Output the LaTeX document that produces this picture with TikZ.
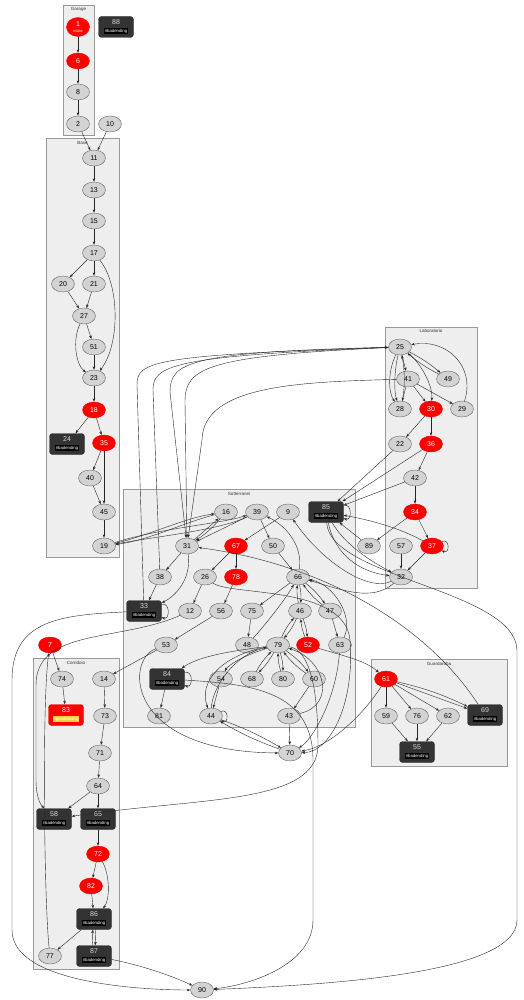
\documentclass[tikz,border=0pt]{standalone}
\usepackage{fontspec}
\setmainfont{Liberation Sans}
\usetikzlibrary{arrows.meta}
\usetikzlibrary{shapes.geometric}
\definecolor{clfill}{HTML}{EEEEEE}
\definecolor{clline}{HTML}{999999}
\definecolor{gfill}{HTML}{D3D3D3}
\definecolor{bfill}{HTML}{333333}
\definecolor{goodyel}{HTML}{F2CF3A}
\newcommand{\badtag}{{\fontsize{4.3}{5}\selectfont\setlength{\fboxsep}{0.8pt}\colorbox{black}{\textcolor{white}{\#badending}}}}
\newcommand{\goodtag}{{\fontsize{4.3}{5}\selectfont\setlength{\fboxsep}{0.8pt}\colorbox{goodyel}{\textcolor{white}{\#goodending}}}}

\begin{document}
\begin{tikzpicture}[>={Stealth[length=3.5pt,width=2.6pt]},x=1pt,y=1pt,
	gnode/.style={ellipse,draw=black!60,fill=gfill,minimum width=23pt,minimum height=16pt,inner sep=0pt,font=\fontsize{7}{8}\selectfont},
	rnode/.style={gnode,draw=red,fill=red,text=white},
	bnode/.style={rectangle,rounded corners=3pt,draw=bfill,fill=bfill,text=white!85!black,minimum width=35pt,minimum height=21pt,inner sep=1pt,align=center,font=\fontsize{7}{7.5}\selectfont},
	gbox/.style={bnode,draw=red,fill=red,text=white},
	cluster/.style={draw=clline,fill=clfill,line width=0.6pt},
	cllabel/.style={font=\fontsize{4.5}{5}\selectfont,text=black!80},
	link/.style={->,draw=black!85,line width=0.4pt}]
			\useasboundingbox (0,0) rectangle (523,-1000);
			% clusters
			\draw[cluster] (63,-5) rectangle (94,-135);
			\node[cllabel] at (78.5,-9.5) {Garage};
			\draw[cluster] (46,-138) rectangle (119,-557);
			\node[cllabel] at (82.5,-143) {Base};
			\draw[cluster] (385,-327) rectangle (477,-588);
			\node[cllabel] at (431,-331) {Laboratorio};
			\draw[cluster] (123,-489) rectangle (355,-727);
			\node[cllabel] at (239,-494) {Sotterranei};
			\draw[cluster] (33,-658) rectangle (119,-969);
			\node[cllabel] at (76,-663) {Corridoio};
			\draw[cluster] (371,-659) rectangle (507,-766);
			\node[cllabel] at (439,-664) {Guardaroba};
			% Garage
			\node[rnode,minimum height=19pt,align=center] (n1) at (78,-27) {1\\[-2.5pt]{\fontsize{4}{4}\selectfont inizio}};
			\node[rnode] (n6) at (78,-61) {6};
			\node[gnode] (n8) at (78,-92) {8};
			\node[gnode] (n2) at (78,-124) {2};
			\node[bnode] (n88) at (116,-27) {88\\\badtag};
			\node[gnode] (n10) at (110,-124) {10};
			% Base
			\node[gnode] (n11) at (94,-158) {11};
			\node[gnode] (n13) at (94,-190) {13};
			\node[gnode] (n15) at (94,-221) {15};
			\node[gnode] (n17) at (94,-253) {17};
			\node[gnode] (n20) at (63,-284) {20};
			\node[gnode] (n21) at (94,-284) {21};
			\node[gnode] (n27) at (84,-316) {27};
			\node[gnode] (n51) at (94,-347) {51};
			\node[gnode] (n23) at (94,-378) {23};
			\node[rnode] (n18) at (94,-410) {18};
			\node[bnode] (n24) at (67,-444) {24\\\badtag};
			\node[rnode] (n35) at (104,-443) {35};
			\node[gnode] (n40) at (90,-478) {40};
			\node[gnode] (n45) at (104,-512) {45};
			\node[gnode] (n19) at (104,-546) {19};
			% Laboratorio
			\node[gnode] (n25) at (400,-347) {25};
			\node[gnode] (n41) at (408,-379) {41};
			\node[gnode] (n49) at (448,-379) {49};
			\node[gnode] (n28) at (400,-409) {28};
			\node[rnode] (n30) at (431,-409) {30};
			\node[gnode] (n29) at (462,-409) {29};
			\node[gnode] (n22) at (400,-444) {22};
			\node[rnode] (n36) at (431,-444) {36};
			\node[gnode] (n42) at (415,-478) {42};
			\node[rnode] (n34) at (415,-512) {34};
			\node[gnode] (n57) at (401,-546) {57};
			\node[rnode] (n37) at (432,-546) {37};
			\node[gnode] (n32) at (401,-577) {32};
			\node[gnode] (n89) at (369,-546) {89};
			% Sotterranei
			\node[gnode] (n16) at (226,-512) {16};
			\node[gnode] (n39) at (257,-512) {39};
			\node[gnode] (n9) at (288,-512) {9};
			\node[bnode] (n85) at (326,-512) {85\\\badtag};
			\node[gnode] (n31) at (187,-546) {31};
			\node[rnode] (n67) at (236,-546) {67};
			\node[gnode] (n50) at (273,-546) {50};
			\node[gnode] (n38) at (160,-577) {38};
			\node[gnode] (n26) at (205,-577) {26};
			\node[rnode] (n78) at (236,-577) {78};
			\node[gnode] (n66) at (298,-577) {66};
			\node[bnode] (n33) at (144,-611) {33\\\badtag};
			\node[gnode] (n12) at (190,-611) {12};
			\node[gnode] (n56) at (221,-611) {56};
			\node[gnode] (n75) at (252,-611) {75};
			\node[gnode] (n46) at (300,-611) {46};
			\node[gnode] (n47) at (330,-611) {47};
			\node[gnode] (n53) at (166,-645) {53};
			\node[gnode] (n48) at (247,-645) {48};
			\node[gnode] (n79) at (278,-645) {79};
			\node[rnode] (n52) at (308,-645) {52};
			\node[gnode] (n63) at (340,-645) {63};
			\node[bnode] (n84) at (167,-679) {84\\\badtag};
			\node[gnode] (n54) at (221,-679) {54};
			\node[gnode] (n68) at (252,-679) {68};
			\node[gnode] (n80) at (283,-679) {80};
			\node[gnode] (n60) at (314,-679) {60};
			\node[gnode] (n81) at (159,-716) {81};
			\node[gnode] (n44) at (211,-716) {44};
			\node[gnode] (n43) at (289,-716) {43};
			\node[gnode] (n70) at (290,-753) {70};
			% Corridoio
			\node[rnode] (n7) at (50,-645) {7};
			\node[gnode] (n74) at (62,-679) {74};
			\node[gnode] (n14) at (104,-679) {14};
			\node[gbox] (n83) at (66,-715) {83\\\goodtag};
			\node[gnode] (n73) at (105,-716) {73};
			\node[gnode] (n71) at (100,-753) {71};
			\node[gnode] (n64) at (98,-786) {64};
			\node[bnode] (n58) at (54,-819) {58\\\badtag};
			\node[bnode] (n65) at (98,-819) {65\\\badtag};
			\node[rnode] (n72) at (98,-854) {72};
			\node[rnode] (n82) at (91,-886) {82};
			\node[bnode] (n86) at (94,-919) {86\\\badtag};
			\node[gnode] (n77) at (50,-956) {77};
			\node[bnode] (n87) at (94,-956) {87\\\badtag};
			\node[gnode] (n90) at (202,-990) {90};
			% Guardaroba
			\node[rnode] (n61) at (386,-679) {61};
			\node[gnode] (n59) at (386,-716) {59};
			\node[gnode] (n76) at (417,-716) {76};
			\node[gnode] (n62) at (448,-716) {62};
			\node[bnode] (n69) at (485,-715) {69\\\badtag};
			\node[bnode] (n55) at (417,-752) {55\\\badtag};
			% Garage and Base links
			\draw[link] (n1)--(n6);
			\draw[link] (n6)--(n8);
			\draw[link] (n8)--(n2);
			\draw[link] (n2)--(n11);
			\draw[link] (n10)--(n11);
			\draw[link] (n11)--(n13);
			\draw[link] (n13)--(n15);
			\draw[link] (n15)--(n17);
			\draw[link] (n17)--(n20);
			\draw[link] (n17)--(n21);
			\draw[link] (n17) .. controls (120,-285) and (120,-345) .. (n23);
			\draw[link] (n20)--(n27);
			\draw[link] (n21)--(n27);
			\draw[link] (n27)--(n51);
			\draw[link] (n27) .. controls (72,-340) and (76,-365) .. (n23);
			\draw[link] (n51)--(n23);
			\draw[link] (n23)--(n18);
			\draw[link] (n18)--(n24);
			\draw[link] (n18)--(n35);
			\draw[link] (n35)--(n40);
			\draw[link] (n35)--(n45);
			\draw[link] (n40)--(n45);
			\draw[link] (n45)--(n19);
			\draw[link] (n19) .. controls (150,-535) and (185,-518) .. (n16);
			\draw[link] (n16) .. controls (185,-522) and (150,-540) .. (n19);
			\draw[link] (n19) .. controls (160,-528) and (220,-524) .. (n39);
			\draw[link] (n39) .. controls (220,-530) and (160,-536) .. (n19);
			% long links to and from 25
			\draw[link] (n33)--(137,-385) .. controls (137,-362) and (150,-355) .. (n25);
			\draw[link] (n38)--(153,-390) .. controls (153,-366) and (170,-356) .. (n25);
			\draw[link] (n25) .. controls (190,-352) and (170,-362) .. (170,-392)--(n31);
			\draw[link] (n25) .. controls (205,-356) and (185,-368) .. (185,-402)--(n31);
			\draw[link] (n41) .. controls (300,-382) and (203,-385) .. (202,-440)--(n31);
			% Laboratorio
			\draw[link] (n25)--(n41);
			\draw[link] (n25) .. controls (388,-370) and (388,-392) .. (n28);
			\draw[link] (n25) .. controls (394,-372) and (394,-392) .. (n28);
			\draw[link] (n28) .. controls (405,-390) and (405,-370) .. (n25);
			\draw[link] (n41)--(n28);
			\draw[link] (n41)--(n30);
			\draw[link] (n41)--(n29);
			\draw[link] (n25) .. controls (420,-362) and (433,-385) .. (n30);
			\draw[link] (n25) to[bend left=6] (n49);
			\draw[link] (n49) to[bend left=6] (n25);
			\draw[link] (n29) .. controls (476,-365) and (445,-338) .. (n25);
			\draw[link] (n30)--(n22);
			\draw[link] (n30)--(n36);
			\draw[link] (n36)--(n42);
			\draw[link] (n42)--(n34);
			\draw[link] (n34)--(n37);
			\draw[link] (n34)--(n89);
			\draw[link] (n37) to[out=25,in=-25,min distance=9pt] (n37);
			\draw[link] (n37)--(n32);
			\draw[link] (n57)--(n32);
			% into and out of 85
			\draw[link] (n22)--(n85);
			\draw[link] (n36)--(n85);
			\draw[link] (n42)--(n85);
			\draw[link] (n89)--(n85);
			\draw[link] (n37) .. controls (400,-528) and (370,-520) .. (n85);
			\draw[link] (n85) to[out=20,in=-20,min distance=9pt] (n85);
			\draw[link] (n85) .. controls (335,-555) and (360,-572) .. (n32);
			\draw[link] (n85) .. controls (345,-545) and (372,-562) .. (n32);
			\draw[link] (n32) .. controls (368,-592) and (322,-562) .. (n9);
			\draw[link] (n32) .. controls (372,-602) and (342,-590) .. (n66);
			\draw[link] (n85) .. controls (330,-578) and (515,-590) .. (517,-650)--(517,-920) .. controls (517,-975) and (320,-985) .. (n90);
			% Sotterranei
			\draw[link] (n16) to[bend left=8] (n31);
			\draw[link] (n31)--(n16);
			\draw[link] (n39)--(n31);
			\draw[link] (n9)--(n67);
			\draw[link] (n67)--(n26);
			\draw[link] (n67)--(n78);
			\draw[link] (n39)--(n50);
			\draw[link] (n50)--(n66);
			\draw[link] (n66) .. controls (303,-545) and (285,-525) .. (n39);
			\draw[link] (n31)--(n38);
			\draw[link] (n31) .. controls (192,-582) and (172,-598) .. (n33);
			\draw[link] (n38)--(n33);
			\draw[link] (n33) to[out=20,in=-20,min distance=9pt] (n33);
			\draw[link] (n26)--(n12);
			\draw[link] (n78)--(n56);
			\draw[link] (n56)--(n53);
			\draw[link] (n53)--(n14);
			\draw[link] (n26) .. controls (230,-596) and (345,-585) .. (350,-640) .. controls (355,-700) and (332,-752) .. (n70);
			\draw[link] (n66)--(n75);
			\draw[link] (n66) to[bend left=8] (n46);
			\draw[link] (n46) to[bend left=8] (n66);
			\draw[link] (n66) to[bend left=8] (n47);
			\draw[link] (n47) to[bend left=8] (n66);
			\draw[link] (n75)--(n48);
			\draw[link] (n48) .. controls (265,-625) and (285,-600) .. (n66);
			\draw[link] (n47)--(n63);
			\draw[link] (n63) .. controls (354,-618) and (335,-585) .. (n66);
			\draw[link] (n46) to[bend left=8] (n79);
			\draw[link] (n79) to[bend left=8] (n46);
			\draw[link] (n46) to[bend left=8] (n52);
			\draw[link] (n52) to[bend left=8] (n46);
			\draw[link] (n79) .. controls (240,-650) and (200,-655) .. (n84);
			\draw[link] (n79) .. controls (245,-655) and (228,-665) .. (n54);
			\draw[link] (n79) to[bend left=8] (n68);
			\draw[link] (n68) to[bend left=8] (n79);
			\draw[link] (n79) to[bend left=8] (n80);
			\draw[link] (n80) to[bend left=8] (n79);
			\draw[link] (n79) to[bend left=8] (n60);
			\draw[link] (n60) to[bend left=8] (n79);
			\draw[link] (n60)--(n43);
			\draw[link] (n43) .. controls (336,-705) and (326,-660) .. (n79);
			\draw[link] (n79) .. controls (222,-655) and (198,-682) .. (n44);
			\draw[link] (n44) .. controls (212,-690) and (232,-655) .. (n79);
			\draw[link] (n54)--(n44);
			\draw[link] (n44) to[out=25,in=-25,min distance=9pt] (n44);
			\draw[link] (n44) to[bend left=5] (n70);
			\draw[link] (n70) to[bend left=5] (n44);
			\draw[link] (n43)--(n70);
			\draw[link] (n63) .. controls (336,-700) and (312,-740) .. (n70);
			\draw[link] (n84) to[out=20,in=-20,min distance=9pt] (n84);
			\draw[link] (n84)--(n81);
			\draw[link] (n84) .. controls (250,-684) and (313,-690) .. (313,-760)--(313,-920) .. controls (313,-965) and (250,-985) .. (n90);
			\draw[link] (n53) .. controls (125,-660) and (125,-752) .. (n70);
			\draw[link] (n79) .. controls (310,-650) and (318,-690) .. (318,-745) .. controls (318,-805) and (200,-797) .. (n58);
			\draw[link] (n52) .. controls (340,-655) and (365,-660) .. (n61);
			\draw[link] (n61) .. controls (365,-712) and (332,-746) .. (n70);
			% Corridoio
			\draw[link] (n7)--(n74);
			\draw[link] (n74)--(n83);
			\draw[link] (n14)--(n73);
			\draw[link] (n73)--(n71);
			\draw[link] (n71)--(n64);
			\draw[link] (n64)--(n58);
			\draw[link] (n64)--(n65);
			\draw[link] (n65)--(n72);
			\draw[link] (n72)--(n82);
			\draw[link] (n72) .. controls (110,-875) and (110,-900) .. (n86);
			\draw[link] (n82)--(n86);
			\draw[link] (n86)--(n77);
			\draw[link] (n86) to[bend left=6] (n87);
			\draw[link] (n87) to[bend left=6] (n86);
			\draw[link] (n77) .. controls (44,-900) and (42,-700) .. (n7);
			\draw[link] (n87) .. controls (140,-965) and (170,-975) .. (n90);
			\draw[link] (n33) .. controls (60,-615) and (12,-620) .. (12,-680)--(12,-930) .. controls (12,-985) and (150,-990) .. (n90);
			\draw[link] (n12) .. controls (120,-642) and (36,-628) .. (36,-685)--(36,-780) .. controls (36,-800) and (42,-806) .. (n58);
			% Guardaroba
			\draw[link] (n61)--(n59);
			\draw[link] (n61)--(n76);
			\draw[link] (n61)--(n62);
			\draw[link] (n61)--(n69);
			\draw[link] (n61) to[bend left=6] (n69);
			\draw[link] (n59)--(n55);
			\draw[link] (n76)--(n55);
			\draw[link] (n62)--(n55);
			\draw[link] (n69) .. controls (430,-630) and (330,-565) .. (n31);
		\end{tikzpicture}
\end{document}
